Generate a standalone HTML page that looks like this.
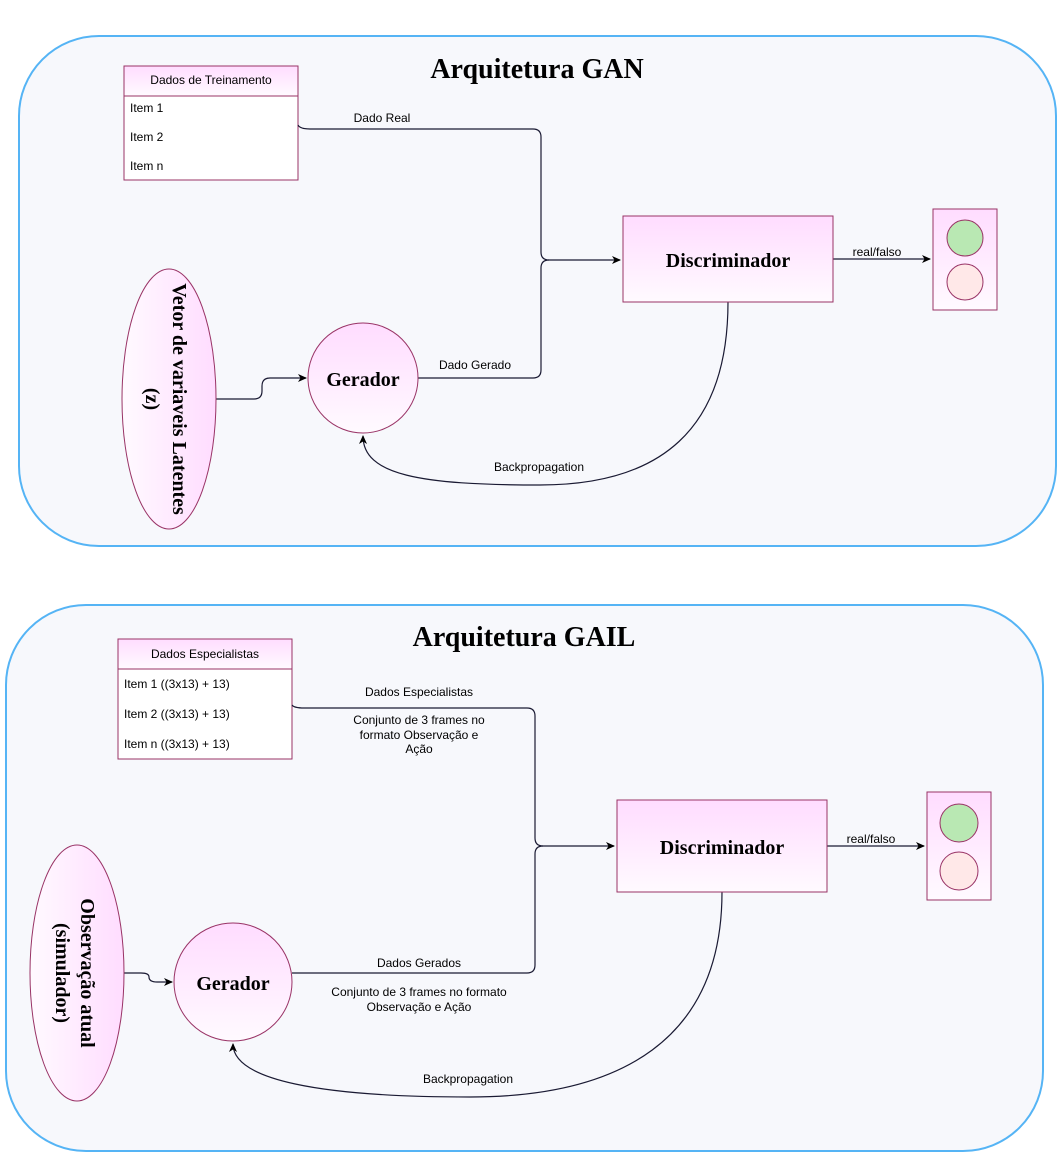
<!DOCTYPE html>
<html><head><meta charset="utf-8"><style>html,body{margin:0;padding:0;background:#fff}svg{display:block}</style></head><body>
<svg width="1064" height="1172" viewBox="0 0 1064 1172" xmlns="http://www.w3.org/2000/svg">
<defs>
<linearGradient id="gv" x1="0" y1="0" x2="0" y2="1"><stop offset="0" stop-color="#ffdcff"/><stop offset="1" stop-color="#fffaff"/></linearGradient>
<linearGradient id="gh" x1="0" y1="0" x2="1" y2="0"><stop offset="0" stop-color="#fffaff"/><stop offset="1" stop-color="#ffdcff"/></linearGradient>
<marker id="ar" markerWidth="10" markerHeight="10" refX="8" refY="5" orient="auto" markerUnits="userSpaceOnUse"><path d="M0,1 L9,5 L0,9 L2.5,5 z" fill="#000"/></marker>
</defs>
<g font-family="Liberation Sans, sans-serif">
<rect x="19" y="36" width="1037" height="510" rx="80" fill="#f7f8fc" stroke="#55b4f5" stroke-width="2"/>
<rect x="6" y="605" width="1037" height="546" rx="80" fill="#f7f8fc" stroke="#55b4f5" stroke-width="2"/>
<g font-family="Liberation Serif, serif" font-weight="bold" text-anchor="middle">
<text x="537" y="78" font-size="28">Arquitetura GAN</text>
<text x="524" y="646" font-size="28">Arquitetura GAIL</text>
</g>
<!-- GAN -->
<rect x="124" y="66" width="174" height="114" fill="#fff" stroke="#993366"/>
<rect x="124" y="66" width="174" height="30" fill="url(#gv)" stroke="#993366"/>
<g font-size="12"><text x="211" y="84" text-anchor="middle">Dados de Treinamento</text>
<text x="130" y="112">Item 1</text><text x="130" y="141">Item 2</text><text x="130" y="170">Item n</text></g>
<g fill="none" stroke="#1a1a33" stroke-width="1.2">
<path d="M298 125 Q300 129 310 129 L533 129 Q541 129 541 137 L541 252 Q541 260 549 260 L620 260" marker-end="url(#ar)"/>
<path d="M418 378 L533 378 Q541 378 541 370 L541 268 Q541 260 549 260"/>
<path d="M216 399 L254 399 Q262 399 262 391 L262 386 Q262 378 270 378 L306 378" marker-end="url(#ar)"/>
<path d="M833 259 L930 259" marker-end="url(#ar)"/>
<path d="M728 302 C728 430 660 485 540 485 C420 485 363 475 363 436" marker-end="url(#ar)"/>
</g>
<g font-size="12" text-anchor="middle"><text x="382" y="122">Dado Real</text><text x="475" y="369">Dado Gerado</text><text x="877" y="256">real/falso</text><text x="539" y="471">Backpropagation</text></g>
<rect x="623" y="216" width="210" height="86" fill="url(#gv)" stroke="#993366"/>
<text x="728" y="267" font-family="Liberation Serif, serif" font-weight="bold" font-size="20" text-anchor="middle">Discriminador</text>
<rect x="933" y="209" width="64" height="101" fill="url(#gv)" stroke="#993366"/>
<circle cx="965" cy="238" r="18" fill="#b9e8b3" stroke="#993366"/>
<circle cx="965" cy="282" r="18" fill="#ffe8e8" stroke="#993366"/>
<ellipse cx="169" cy="399" rx="47" ry="130" fill="url(#gh)" stroke="#993366"/>
<g font-family="Liberation Serif, serif" font-weight="bold" font-size="20" text-anchor="middle">
<text transform="translate(173,399) rotate(90)">Vetor de variaveis Latentes</text>
<text transform="translate(146,399) rotate(90)">(z)</text></g>
<circle cx="363" cy="378" r="55" fill="url(#gv)" stroke="#993366"/>
<text x="363" y="386" font-family="Liberation Serif, serif" font-weight="bold" font-size="20" text-anchor="middle">Gerador</text>
<!-- GAIL -->
<rect x="118" y="639" width="174" height="120" fill="#fff" stroke="#993366"/>
<rect x="118" y="639" width="174" height="30" fill="url(#gv)" stroke="#993366"/>
<g font-size="12"><text x="205" y="658" text-anchor="middle">Dados Especialistas</text>
<text x="124" y="688">Item 1 ((3x13) + 13)</text><text x="124" y="718">Item 2 ((3x13) + 13)</text><text x="124" y="748">Item n ((3x13) + 13)</text></g>
<g fill="none" stroke="#1a1a33" stroke-width="1.2">
<path d="M292 705 Q294 708 304 708 L527 708 Q535 708 535 716 L535 838 Q535 846 543 846 L614 846" marker-end="url(#ar)"/>
<path d="M292 973 Q294 973 300 973 L527 973 Q535 973 535 965 L535 854 Q535 846 543 846"/>
<path d="M124 973 L141 973 Q149 973 149 977 Q149 982 157 982 L172 982" marker-end="url(#ar)"/>
<path d="M827 846 L924 846" marker-end="url(#ar)"/>
<path d="M722 892 C722 1040 620 1097 470 1097 C320 1097 233 1080 233 1044" marker-end="url(#ar)"/>
</g>
<g font-size="12" text-anchor="middle"><text x="419" y="696">Dados Especialistas</text>
<text x="419" y="724">Conjunto de 3 frames no</text><text x="419" y="739">formato Observação e</text><text x="419" y="753">Ação</text>
<text x="419" y="967">Dados Gerados</text><text x="419" y="996">Conjunto de 3 frames no formato</text><text x="419" y="1011">Observação e Ação</text>
<text x="871" y="843">real/falso</text><text x="468" y="1083">Backpropagation</text></g>
<rect x="617" y="800" width="210" height="92" fill="url(#gv)" stroke="#993366"/>
<text x="722" y="854" font-family="Liberation Serif, serif" font-weight="bold" font-size="20" text-anchor="middle">Discriminador</text>
<rect x="927" y="792" width="64" height="108" fill="url(#gv)" stroke="#993366"/>
<circle cx="959" cy="823" r="19" fill="#b9e8b3" stroke="#993366"/>
<circle cx="959" cy="871" r="19" fill="#ffe8e8" stroke="#993366"/>
<ellipse cx="77" cy="973" rx="47" ry="128" fill="url(#gh)" stroke="#993366"/>
<g font-family="Liberation Serif, serif" font-weight="bold" font-size="20" text-anchor="middle">
<text transform="translate(81,973) rotate(90)">Observação atual</text>
<text transform="translate(56,973) rotate(90)">(simulador)</text></g>
<circle cx="233" cy="982" r="59" fill="url(#gv)" stroke="#993366"/>
<text x="233" y="990" font-family="Liberation Serif, serif" font-weight="bold" font-size="20" text-anchor="middle">Gerador</text>
</g>
</svg>
</body></html>
